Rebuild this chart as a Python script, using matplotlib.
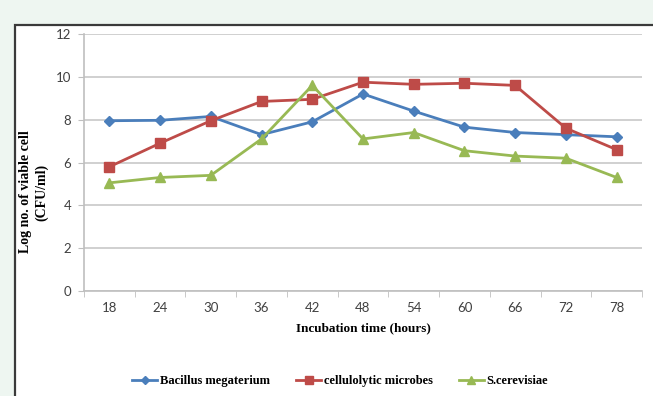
import matplotlib.pyplot as plt
from matplotlib.patches import Rectangle
import numpy as np

hours = [18, 24, 30, 36, 42, 48, 54, 60, 66, 72, 78]
bacillus = [7.95, 7.97, 8.15, 7.3, 7.9, 9.2, 8.4, 7.65, 7.4, 7.3, 7.2]
cellulolytic = [5.8, 6.9, 7.95, 8.85, 8.95, 9.75, 9.65, 9.7, 9.6, 7.6, 6.6]
cerevisiae = [5.05, 5.3, 5.4, 7.1, 9.6, 7.1, 7.4, 6.55, 6.3, 6.2, 5.3]

serif = 'Liberation Serif'
tick_font = 'Lato'

fig = plt.figure(figsize=(6.53, 3.96), dpi=100)
fig.patch.set_facecolor('#eef6f1')

# white chart panel with dark left/top border, kept behind the axes
panel = Rectangle((15 / 653, -0.05), 1.0, 1 - 25 / 396 + 0.05,
                  transform=fig.transFigure, facecolor='white',
                  edgecolor='#3a3a3a', linewidth=1.6, zorder=-1)
fig.patches.append(panel)

ax = fig.add_axes([84 / 653, 1 - 291 / 396, (642 - 84) / 653, (291 - 34) / 396])
ax.set_facecolor('none')

x = np.arange(len(hours))
ax.plot(x, bacillus, color='#4a7ebb', lw=2.0, marker='D', ms=5.5,
        label='Bacillus megaterium', zorder=3)
ax.plot(x, cellulolytic, color='#be4b48', lw=2.0, marker='s', ms=7,
        label='cellulolytic microbes', zorder=3)
ax.plot(x, cerevisiae, color='#98b954', lw=2.0, marker='^', ms=7.5,
        label='S.cerevisiae', zorder=3)

ax.set_xlim(-0.5, len(hours) - 0.5)
ax.set_ylim(0, 12)
ax.set_yticks(range(0, 13, 2))
ax.set_xticks(x)
ax.set_xticklabels([str(h) for h in hours])
ax.set_xticks(np.arange(-0.5, len(hours), 1), minor=True)
ax.tick_params(axis='x', which='major', length=0, pad=8)
ax.tick_params(axis='x', which='minor', length=4, color='#bfbfbf', direction='out')
ax.tick_params(axis='y', length=4, color='#bfbfbf', pad=5)
for lab in ax.get_xticklabels() + ax.get_yticklabels():
    lab.set_fontfamily(tick_font)
    lab.set_fontsize(9.5)
    lab.set_color('#404040')

ax.grid(axis='y', color='#c8c8c8', lw=1.2)
ax.set_axisbelow(True)
for side in ['top', 'right']:
    ax.spines[side].set_visible(False)
ax.spines['left'].set_color('#bfbfbf')
ax.spines['bottom'].set_color('#bfbfbf')
ax.spines['left'].set_linewidth(1.2)
ax.spines['bottom'].set_linewidth(1.2)

ax.set_xlabel('Incubation time (hours)', family=serif, fontweight='bold',
              fontsize=9.5, labelpad=6)
fig.text(34 / 653, 1 - 192 / 396, 'Log no. of viable cell\n(CFU/ml)',
         family=serif, fontweight='bold', fontsize=10, rotation=90,
         ha='center', va='center', linespacing=1.25, multialignment='center')

fig.legend(loc='center', bbox_to_anchor=(0.521, 1 - 381 / 396), ncol=3,
           frameon=False, prop={'family': serif, 'weight': 'bold', 'size': 9},
           handlelength=2.0, columnspacing=2.1, handletextpad=0.2,
           markerscale=0.8)

fig.savefig('out.png', dpi=100, facecolor=fig.get_facecolor())
